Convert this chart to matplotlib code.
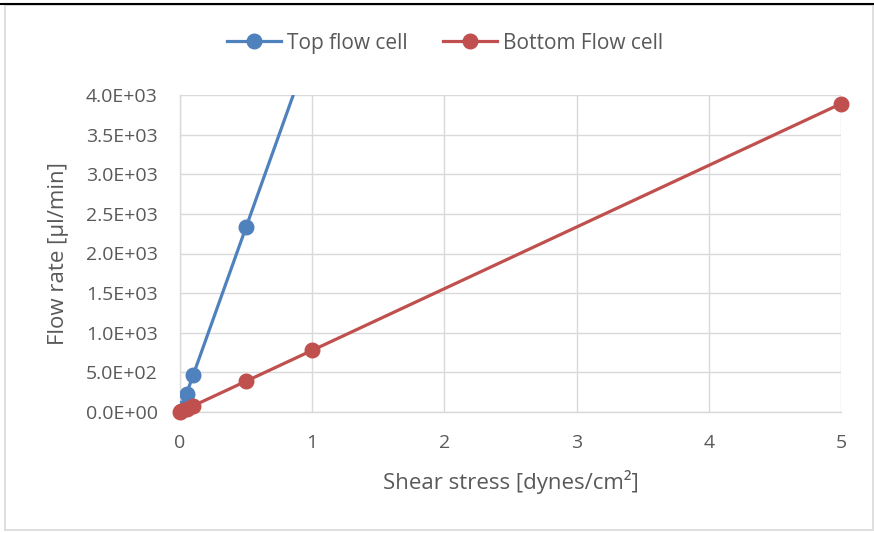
import matplotlib.pyplot as plt
from matplotlib.lines import Line2D
from matplotlib.patches import Rectangle
from matplotlib.ticker import FuncFormatter

# shear stress [dynes/cm2] and flow rate [ul/min]
top_x = [0, 0.01, 0.05, 0.1, 0.5, 1]
top_y = [0, 47, 233, 467, 2334, 4668]
bottom_x = [0, 0.01, 0.05, 0.1, 0.5, 1, 5]
bottom_y = [0, 8, 39, 78, 389, 778, 3890]

series_names = ["Top flow cell", "Bottom Flow cell"]
x_ticks = [0, 1, 2, 3, 4, 5]
y_ticks = [0, 500, 1000, 1500, 2000, 2500, 3000, 3500, 4000]

BLUE = "#4F81BD"
RED = "#C0504D"
TEXT = "#595959"
GRID = "#D9D9D9"

plt.rcParams['font.family'] = ['Open Sans', 'DejaVu Sans']


def sci(v, pos):
    return "%.1E" % v


def main():
    fig = plt.figure(figsize=(8.74, 5.33), dpi=100)
    ax = fig.add_axes([180 / 874, 1 - 412 / 533, 661 / 874, 317 / 533])

    # chart frame
    fig.add_artist(Rectangle((5 / 874, 3 / 533), 868 / 874, 525 / 533,
                             transform=fig.transFigure, fill=False,
                             edgecolor="#D9D9D9", linewidth=1.2))
    fig.add_artist(Line2D([0, 1], [1 - 3.5 / 533, 1 - 3.5 / 533],
                          transform=fig.transFigure, color="black", linewidth=1.5))

    ax.plot(top_x, top_y, color=BLUE, linewidth=2.3, marker="o",
            markersize=10.5, label=series_names[0], clip_on=True, zorder=3)
    ax.plot(bottom_x, bottom_y, color=RED, linewidth=2.3, marker="o",
            markersize=10.5, label=series_names[1], clip_on=False, zorder=4)

    ax.set_xlim(0, 5)
    ax.set_ylim(0, 4000)
    ax.set_xticks(x_ticks)
    ax.set_yticks(y_ticks)
    ax.yaxis.set_major_formatter(FuncFormatter(sci))
    ax.grid(True, color=GRID, linewidth=1)
    ax.set_axisbelow(True)
    for side in ["top", "right"]:
        ax.spines[side].set_visible(False)
    for side in ["left", "bottom"]:
        ax.spines[side].set_color(GRID)
        ax.spines[side].set_linewidth(1)
    ax.tick_params(length=0, labelsize=14, labelcolor=TEXT)
    ax.tick_params(axis="x", pad=16)
    ax.tick_params(axis="y", pad=16)

    ax.set_xlabel("Shear stress [dynes/cm²]", fontsize=16, color=TEXT, labelpad=13)
    ax.set_ylabel("Flow rate [µl/min]", fontsize=16, color=TEXT, labelpad=12)

    fig.legend(loc="center", bbox_to_anchor=(0.5 + 8 / 874, 1 - 43 / 533), ncol=2,
               frameon=False, fontsize=15, labelcolor=TEXT, handlelength=2.6,
               columnspacing=1.7, handletextpad=0.3)

    fig.savefig("out.png", dpi=100)


if __name__ == "__main__":
    main()
